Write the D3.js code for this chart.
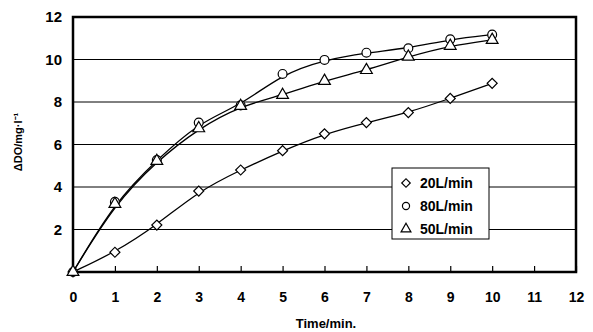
<!DOCTYPE html>
<html><head><meta charset="utf-8">
<script src="https://cdn.jsdelivr.net/npm/d3@7"></script>
<style>body{margin:0;background:#fff}svg{display:block}</style>
</head><body>
<script>
const times = [0,1,2,3,4,5,6,7,8,9,10];
const seriesNames = ["20L/min","80L/min","50L/min"];
const flow20 = [0,0.93,2.21,3.81,4.8,5.71,6.5,7.03,7.5,8.17,8.88];
const flow80 = [0,3.3,5.27,7.03,7.84,9.32,9.98,10.32,10.53,10.95,11.17];
const flow50 = [0,3.2,5.22,6.76,7.81,8.33,8.99,9.5,10.13,10.64,10.92];
const xTicks = [0,1,2,3,4,5,6,7,8,9,10,11,12];
const yTicks = [2,4,6,8,10,12];

const W=593,H=332;
const m={l:73,r:17,t:17,b:60};
const svg=d3.select("body").append("svg").attr("width",W).attr("height",H);
const x=d3.scaleLinear().domain([0,12]).range([m.l,W-m.r]);
const y=d3.scaleLinear().domain([0,12]).range([H-m.b,m.t]);
const font='"Liberation Sans Narrow","Liberation Sans",Arial,sans-serif';

svg.append("g").selectAll("line").data(yTicks.filter(v=>v<12)).join("line")
 .attr("x1",x(0)).attr("x2",x(12)).attr("y1",d=>y(d)).attr("y2",d=>y(d))
 .attr("stroke","#000").attr("stroke-width",1);

const xa=d3.axisBottom(x).tickValues(xTicks).tickSize(-6).tickPadding(20).tickFormat(d3.format("d"));
const gx=svg.append("g").attr("transform",`translate(0,${y(0)})`).call(xa);
gx.select(".domain").remove();
gx.selectAll(".tick line").attr("stroke-width",1.2);
gx.selectAll("text").attr("font-family",font).attr("font-weight","bold").attr("font-size",14).attr("fill","#000");

const ya=d3.axisLeft(y).tickValues(yTicks).tickSize(0).tickPadding(11).tickFormat(d3.format("d"));
const gy=svg.append("g").attr("transform",`translate(${x(0)},0)`).call(ya);
gy.select(".domain").remove();
gy.selectAll("text").attr("font-family",font).attr("font-weight","bold").attr("font-size",15).attr("fill","#000");

svg.append("rect").attr("x",x(0)).attr("y",y(12)).attr("width",x(12)-x(0)).attr("height",y(0)-y(12))
 .attr("fill","none").attr("stroke","#000").attr("stroke-width",2.5);

const line=d3.line().x((d,i)=>x(times[i])).y(d=>y(d)).curve(d3.curveBasis);
const data=[flow20,flow80,flow50];
data.forEach(s=>{
  svg.append("path").attr("d",line(s)).attr("fill","none").attr("stroke","#000").attr("stroke-width",1.3);
});

const shapes=[d3.symbolSquare,d3.symbolCircle,d3.symbolTriangle];
const rot=[45,0,0];
const sizes=[50,62,60];
data.forEach((s,k)=>{
  svg.append("g").selectAll("path").data(s).join("path")
   .attr("transform",(d,i)=>`translate(${x(times[i])},${y(d)}) rotate(${rot[k]})`)
   .attr("d",d3.symbol().type(shapes[k]).size(sizes[k]))
   .attr("fill","#fff").attr("stroke","#000").attr("stroke-width",1.2);
});

const lg=svg.append("g").attr("transform","translate(392,168)");
lg.append("rect").attr("width",97).attr("height",71).attr("fill","#fff").attr("stroke","#000").attr("stroke-width",1);
seriesNames.forEach((n,i)=>{
  const cy=15+i*23;
  lg.append("path").attr("transform",`translate(14,${cy}) rotate(${rot[i]})`)
    .attr("d",d3.symbol().type(shapes[i]).size([36,40,42][i]))
    .attr("fill","#fff").attr("stroke","#000").attr("stroke-width",1.2);
  lg.append("text").attr("x",28).attr("y",cy+5).text(n)
    .attr("font-family",font).attr("font-weight","bold").attr("font-size",14);
});

svg.append("text").attr("x",326).attr("y",328).attr("text-anchor","middle").text("Time/min.")
 .attr("font-family",font).attr("font-weight","bold").attr("font-size",13);
svg.append("text").attr("transform","translate(22,142) rotate(-90)").attr("text-anchor","middle")
 .text("ΔDO/mg·l⁻¹").attr("font-family",font).attr("font-weight","bold").attr("font-size",11);
</script>
</body></html>
